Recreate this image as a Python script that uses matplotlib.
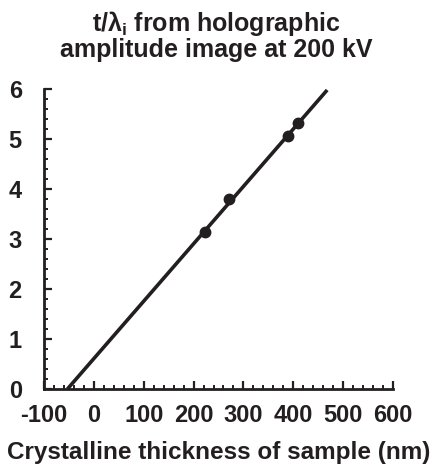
import matplotlib
matplotlib.use("Agg")
import matplotlib.pyplot as plt
from matplotlib.ticker import MultipleLocator

plt.rcParams['font.family'] = ['Liberation Sans', 'DejaVu Sans']
plt.rcParams['mathtext.fontset'] = 'custom'
plt.rcParams['mathtext.rm'] = 'Liberation Sans:bold'
plt.rcParams['mathtext.it'] = 'Liberation Sans:bold'
plt.rcParams['mathtext.bf'] = 'Liberation Sans:bold'
plt.rcParams['axes.unicode_minus'] = False

# Data
thickness_nm = [222, 272, 390, 410]
t_over_lambda = [3.15, 3.80, 5.06, 5.32]
fit_x = [-53, 468]
fit_y = [0.0, 5.98]

x_ticks = [-100, 0, 100, 200, 300, 400, 500, 600]
y_ticks = [0, 1, 2, 3, 4, 5, 6]
title = r"t/$\lambda_\mathrm{i}$ from holographic" + "\n" + "amplitude image at 200 kV"
xlabel = "Crystalline thickness of sample (nm)"

ink = '#231f20'
fs = 17

fig = plt.figure(figsize=(4.32, 4.71), dpi=100)
ax = fig.add_axes([44/432, 82/471, 349/432, 300/471])

ax.plot(fit_x, fit_y, color=ink, lw=2.6, solid_capstyle='butt', zorder=2)
ax.plot(thickness_nm, t_over_lambda, 'o', color=ink, ms=7.5, zorder=3)

ax.set_xlim(-100, 600)
ax.set_ylim(0, 6)
ax.set_xticks(x_ticks)
ax.set_yticks(y_ticks)
ax.xaxis.set_minor_locator(MultipleLocator(20))
ax.yaxis.set_minor_locator(MultipleLocator(0.2))

for s in ['top', 'right']:
    ax.spines[s].set_visible(False)
for s in ['left', 'bottom']:
    ax.spines[s].set_linewidth(2.0)
    ax.spines[s].set_color(ink)

ax.tick_params(which='major', direction='in', length=6, width=1.6, color=ink,
               labelsize=fs, labelcolor=ink)
ax.tick_params(which='minor', direction='in', length=3, width=1.4, color=ink)
ax.tick_params(axis='y', which='major', pad=16)
ax.tick_params(axis='x', which='major', pad=11)
for lab in ax.get_xticklabels() + ax.get_yticklabels():
    lab.set_fontweight('bold')

ax.set_xlabel(xlabel, fontsize=17.5, fontweight='bold', color=ink, labelpad=10)
fig.text(0.5, 1 - 35/471, title, ha='center', va='center', fontsize=18,
         fontweight='bold', color=ink, linespacing=1.0)

fig.savefig('out.png', dpi=100)
